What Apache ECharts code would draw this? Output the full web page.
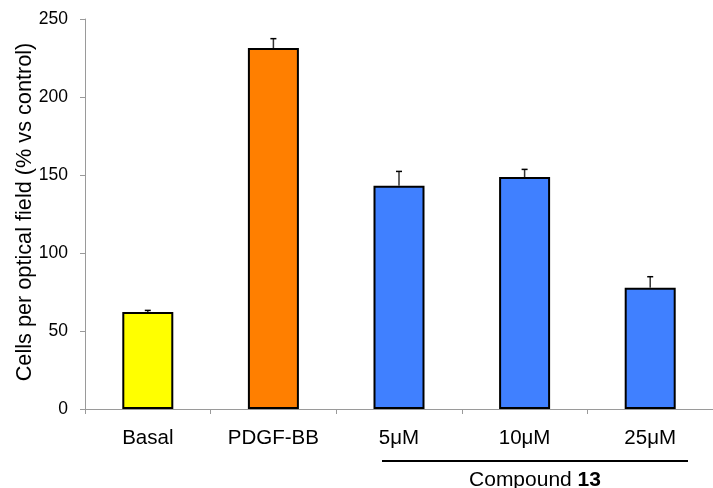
<!DOCTYPE html>
<html>
<head>
<meta charset="utf-8">
<script src="https://cdn.jsdelivr.net/npm/echarts@6/dist/echarts.min.js"></script>
<style>
  html, body { margin: 0; padding: 0; background: #fff; }
  #chart { width: 713px; height: 488px; }
</style>
</head>
<body>
<div id="chart"></div>
<script>
// Cell migration per optical field, as % of control
const categories = ['Basal', 'PDGF-BB', '5μM', '10μM', '25μM'];
const means = [62.2, 231.4, 143.1, 148.7, 77.8];
const errors = [1.0, 6.0, 9.2, 4.9, 7.0];
const barColors = ['#FFFF00', '#FF7F00', '#4080FF', '#4080FF', '#4080FF'];
const yTicks = [0, 50, 100, 150, 200, 250];

const FONT = '"Liberation Sans", Arial, sans-serif';

const chart = echarts.init(document.getElementById('chart'), null, { renderer: 'canvas' });

const option = {
  animation: false,
  backgroundColor: '#ffffff',
  grid: { left: 85, top: 19, width: 630, height: 390, containLabel: false },
  xAxis: {
    type: 'category',
    data: categories,
    boundaryGap: true,
    axisLine: { lineStyle: { color: '#9a9a9a', width: 1 } },
    axisTick: { show: true, length: 5, inside: false, lineStyle: { color: '#9a9a9a' } },
    axisLabel: { color: '#000', fontFamily: FONT, fontSize: 20.5, margin: 19 }
  },
  yAxis: {
    type: 'value',
    min: yTicks[0],
    max: yTicks[yTicks.length - 1],
    interval: 50,
    splitLine: { show: false },
    axisLine: { show: true, lineStyle: { color: '#9a9a9a', width: 1 } },
    axisTick: { show: true, length: 5, lineStyle: { color: '#9a9a9a' } },
    axisLabel: { color: '#000', fontFamily: FONT, fontSize: 17.5, margin: 17 }
  },
  series: [
    {
      type: 'bar',
      barWidth: 51,
      data: means.map((v, i) => ({
        value: v,
        itemStyle: { color: barColors[i], borderColor: '#000', borderWidth: 2 }
      })),
      z: 2
    },
    {
      type: 'custom',
      z: 3,
      data: means.map((v, i) => [i, v, v + errors[i]]),
      renderItem: function (params, api) {
        const x = api.coord([api.value(0), api.value(1)])[0];
        const yLow = api.coord([api.value(0), api.value(1)])[1];
        const yHigh = api.coord([api.value(0), api.value(2)])[1];
        const half = 3;
        return {
          type: 'group',
          children: [
            { type: 'line', shape: { x1: x, y1: yLow, x2: x, y2: yHigh },
              style: { stroke: '#333', lineWidth: 1.5 } },
            { type: 'line', shape: { x1: x - half, y1: yHigh, x2: x + half, y2: yHigh },
              style: { stroke: '#000', lineWidth: 1.5 } }
          ]
        };
      }
    }
  ],
  graphic: [
    {
      type: 'text',
      x: 25, y: 212,
      rotation: Math.PI / 2,
      style: {
        text: 'Cells per optical field (% vs control)',
        font: '21.7px ' + FONT,
        fill: '#000',
        align: 'center',
        verticalAlign: 'middle'
      }
    },
    {
      type: 'line',
      shape: { x1: 382, y1: 461, x2: 688, y2: 461 },
      style: { stroke: '#000', lineWidth: 2 }
    },
    {
      type: 'text',
      x: 535, y: 480,
      style: {
        text: '{n|Compound }{b|13}',
        align: 'center',
        verticalAlign: 'middle',
        rich: {
          n: { fontFamily: FONT, fontSize: 21, fill: '#000', fontWeight: 'normal' },
          b: { fontFamily: FONT, fontSize: 21, fill: '#000', fontWeight: 'bold' }
        }
      }
    }
  ]
};

chart.setOption(option);
</script>
</body>
</html>
